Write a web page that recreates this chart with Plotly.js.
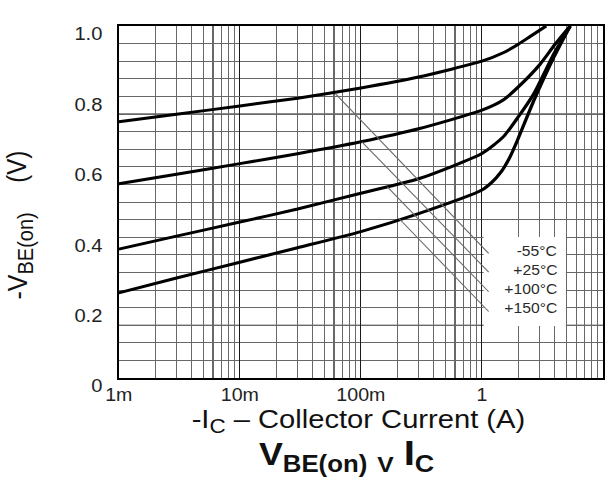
<!DOCTYPE html>
<html><head><meta charset="utf-8">
<script src="https://cdn.plot.ly/plotly-3.0.1.min.js"></script>
<style>
html,body{margin:0;padding:0;background:#fff;overflow:hidden}
#wrap{width:613px;height:482px;overflow:hidden}
#chart{width:547px;height:482px;transform:scaleX(1.1207);transform-origin:0 0}
</style>
</head><body><div id="wrap"><div id="chart"></div></div>
<script>
// ---- data ----
const seriesNames = ['-55°C', '+25°C', '+100°C', '+150°C'];
const current_m55 = [0.001, 0.003, 0.01, 0.03, 0.1, 0.3, 1, 1.5, 2, 2.5, 3, 3.4];
const vbe_m55     = [0.728, 0.749, 0.773, 0.795, 0.824, 0.855, 0.900, 0.924, 0.948, 0.970, 0.988, 1.0];
const current_25  = [0.001, 0.003, 0.01, 0.03, 0.1, 0.3, 1, 1.5, 2, 3, 4, 5.36];
const vbe_25      = [0.552, 0.579, 0.609, 0.637, 0.671, 0.708, 0.761, 0.79, 0.827, 0.89, 0.947, 1.0];
const current_100 = [0.001, 0.003, 0.01, 0.03, 0.1, 0.3, 1, 1.5, 2, 2.7, 3.95, 5.36];
const vbe_100     = [0.366, 0.403, 0.443, 0.480, 0.525, 0.566, 0.638, 0.685, 0.742, 0.809, 0.922, 1.0];
const current_150 = [0.001, 0.003, 0.01, 0.03, 0.1, 0.3, 1, 1.2, 1.43, 1.7, 1.97, 2.7, 3.95, 5.36];
const vbe_150     = [0.242, 0.284, 0.329, 0.370, 0.416, 0.467, 0.534, 0.555, 0.584, 0.627, 0.676, 0.790, 0.913, 1.0];

// leader lines from each curve to its label
const leaderStartI = [0.0615, 0.102, 0.1655, 0.2047];
const leaderStartV = [0.808, 0.671, 0.543, 0.4545];
const leaderEndI   = [1.137, 1.137, 1.137, 1.137];
const leaderEndV   = [0.354, 0.301, 0.245, 0.189];
const labelI = 4.32;
const labelV = [0.3616, 0.307, 0.2537, 0.198];
const labelBoxI = [1.034, 4.94];
const labelBoxV = [0.148, 0.4006];

// axis ticks
const xDecades = [0.001, 0.01, 0.1, 1, 10];
const xDecadeText = ['1m', '10m', '100m', '1', '10'];
const yTicks = [0, 0.2, 0.4, 0.6, 0.8, 1.0];
const yTickText = ['0', '0.2', '0.4', '0.6', '0.8', '1.0'];
const darkY = [0.15, 0.45, 0.75];

// ---- build ----
const S = 1.1207, W0 = 547, L = 106.2, R = 9.4, T = 26, B = 104, H = 482;
const plotW = W0 - L - R, plotH = H - T - B;
const px2paper = px => (px / S - L) / plotW;
const py2paper = py => (H - B - py) / plotH;

const xMinor = [];
[0.001, 0.01, 0.1, 1].forEach(d => { for (let k = 2; k <= 9; k++) xMinor.push(+(d * k).toPrecision(3)); });
const yMinor = [];
for (let i = 1; i < 20; i++) { const v = +(i * 0.05).toFixed(2); if (!yTicks.includes(v)) yMinor.push(v); }

const curves = [[current_m55, vbe_m55], [current_25, vbe_25], [current_100, vbe_100], [current_150, vbe_150]];
const traces = curves.map((c, i) => ({
  x: c[0], y: c[1], name: seriesNames[i], type: 'scatter', mode: 'lines',
  line: {color: '#000', width: 3, shape: 'spline', smoothing: 0.6}, hoverinfo: 'x+y+name'
}));
leaderStartI.forEach((s, i) => traces.push({
  x: [s, leaderEndI[i]], y: [leaderStartV[i], leaderEndV[i]], type: 'scatter', mode: 'lines',
  line: {color: '#6a6a6a', width: 1}, hoverinfo: 'skip', showlegend: false
}));

const font = 'Liberation Sans, Arial, sans-serif';
const annotations = seriesNames.map((t, i) => ({
  x: Math.log10(labelI), y: labelV[i], xref: 'x', yref: 'y', text: t, showarrow: false,
  xanchor: 'right', yanchor: 'middle', font: {family: font, size: 14, color: '#2a2a2a'}
}));
annotations.push({
  xref: 'paper', yref: 'paper', x: px2paper(20), y: py2paper(256), textangle: -90,
  text: '-V<sub><span style="font-size:20px">BE(on)</span></sub>', showarrow: false,
  xanchor: 'center', yanchor: 'middle', font: {family: font, size: 25, color: '#111'}
});
annotations.push({
  xref: 'paper', yref: 'paper', x: px2paper(17), y: py2paper(167), textangle: -90,
  text: '(V)', showarrow: false, xanchor: 'center', yanchor: 'middle',
  font: {family: font, size: 24, color: '#111'}
});
annotations.push({
  xref: 'paper', yref: 'paper', x: px2paper(358), y: py2paper(420),
  text: '-I<sub><span style="font-size:20px">C</span></sub> – Collector Current (A)', showarrow: false,
  xanchor: 'center', yanchor: 'middle', font: {family: font, size: 26, color: '#111'}
});
annotations.push({
  xref: 'paper', yref: 'paper', x: px2paper(347), y: py2paper(454),
  text: '<b>V<sub><span style="font-size:23px">BE(on)</span></sub> <sub><span style="font-size:22px">V</span></sub> <span style="font-size:36px">I</span><sub><span style="font-size:24px">C</span></sub></b>',
  showarrow: false, xanchor: 'center', yanchor: 'middle', font: {family: font, size: 32, color: '#111'}
});

const shapes = [{
  type: 'rect', xref: 'x', yref: 'y', layer: 'between',
  x0: labelBoxI[0], x1: labelBoxI[1], y0: labelBoxV[0], y1: labelBoxV[1],
  fillcolor: '#fff', line: {width: 0}
}];
darkY.forEach(v => shapes.unshift({
  type: 'line', xref: 'paper', yref: 'y', layer: 'between', x0: 0, x1: 1, y0: v, y1: v,
  line: {color: '#1a1a1a', width: 1}
}));

const layout = {
  width: W0, height: H, margin: {l: L, r: R, t: T, b: B, pad: 0},
  paper_bgcolor: '#fff', plot_bgcolor: '#fff', showlegend: false,
  font: {family: font, color: '#222'},
  xaxis: {
    type: 'log', range: [-3, 1], tickmode: 'array', tickvals: xDecades, ticktext: xDecadeText,
    ticks: '', showgrid: true, gridcolor: '#1a1a1a', gridwidth: 1, zeroline: false,
    showline: true, linecolor: '#000', linewidth: 2, mirror: true,
    tickfont: {family: font, size: 17.5, color: '#222'}, ticklabelstandoff: 0,
    minor: {tickmode: 'array', tickvals: xMinor, showgrid: true, gridcolor: '#686868', gridwidth: 1, ticks: ''},
    fixedrange: true
  },
  yaxis: {
    range: [0, 1], tickmode: 'array', tickvals: yTicks, ticktext: yTickText,
    ticks: '', showgrid: true, gridcolor: '#686868', gridwidth: 1, zeroline: false,
    showline: true, linecolor: '#000', linewidth: 2, mirror: true,
    tickfont: {family: font, size: 18, color: '#222'}, ticklabelstandoff: 9, ticklabelshift: 8,
    minor: {tickmode: 'array', tickvals: yMinor, showgrid: true, gridcolor: '#686868', gridwidth: 1, ticks: ''},
    fixedrange: true
  },
  shapes: shapes,
  annotations: annotations
};
Plotly.newPlot('chart', traces, layout, {displayModeBar: false, staticPlot: true});
</script>
</body></html>
